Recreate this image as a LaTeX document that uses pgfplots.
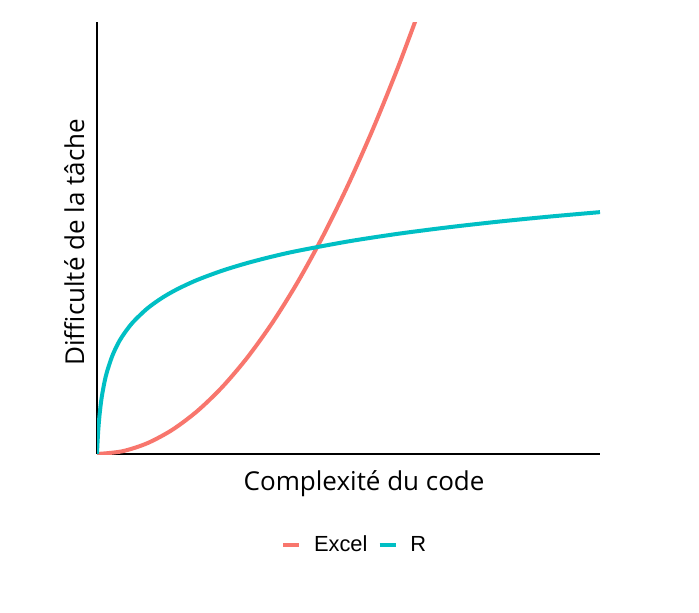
\documentclass[border=0pt]{standalone}
\usepackage{fontspec}
\setmainfont{Open Sans}
\newfontfamily\arialf{Liberation Sans}
\usepackage{pgfplots}
\pgfplotsset{compat=1.18}
\definecolor{excelc}{HTML}{F8766D}
\definecolor{rc}{HTML}{00BFC4}
\begin{document}
\begin{tikzpicture}
\path[use as bounding box, fill=white] (0,0) rectangle (524.25pt,459pt);
\begin{axis}[
  at={(72.75pt,118.5pt)}, anchor=south west,
  scale only axis, width=377.25pt, height=324pt,
  xmin=0, xmax=1, ymin=0, ymax=1,
  axis lines*=left,
  axis line style={-, line width=1pt, black},
  xtick=\empty, ytick=\empty,
  clip=true,
  xlabel={Complexité du code},
  ylabel={Difficulté de la tâche},
  label style={font=\fontsize{19.5}{23}\selectfont},
  xlabel style={at={(axis description cs:0.531,0)}, anchor=center, yshift=-22.5pt},
  ylabel style={at={(axis description cs:0,0.49)}, anchor=center, rotate=0, yshift=17pt},
  legend columns=2,
  legend style={at={(axis description cs:0.513,-0.2106)}, anchor=center, draw=none, fill=none,
    font=\arialf\fontsize{16.4}{19}\selectfont,
    /tikz/every odd column/.append style={column sep=7.5pt},
    /tikz/every even column/.append style={column sep=5.6pt}},
  legend image code/.code={\draw[#1, line width=3pt] (0pt,0pt) -- (12pt,0pt);},
]
\addplot[excelc, line width=3pt, smooth] coordinates {
(0,0) (0.05,0.00625) (0.1,0.025) (0.15,0.05625) (0.2,0.1) (0.25,0.15625) (0.3,0.225)
(0.35,0.30625) (0.4,0.4) (0.45,0.50625) (0.5,0.625) (0.55,0.75625) (0.6,0.9) (0.65,1.05625)
};
\addlegendentry{Excel}
\addplot[rc, line width=3pt, smooth] coordinates {
(0,0) (0.0005,0.0137) (0.001,0.0257) (0.002,0.0461) (0.003,0.0630) (0.005,0.0899)
(0.0075,0.1156) (0.01,0.1360) (0.015,0.1672) (0.02,0.1909) (0.03,0.2259) (0.04,0.2516)
(0.05,0.2720) (0.07,0.3032) (0.1,0.3369) (0.13,0.3619) (0.16,0.3818) (0.2,0.4033)
(0.25,0.4248) (0.3,0.4425) (0.35,0.4575) (0.4,0.4705) (0.5,0.4922) (0.6,0.5100)
(0.7,0.5250) (0.8,0.5381) (0.9,0.5496) (1.0,0.5599)
};
\addlegendentry{R}
\end{axis}
\end{tikzpicture}
\end{document}
